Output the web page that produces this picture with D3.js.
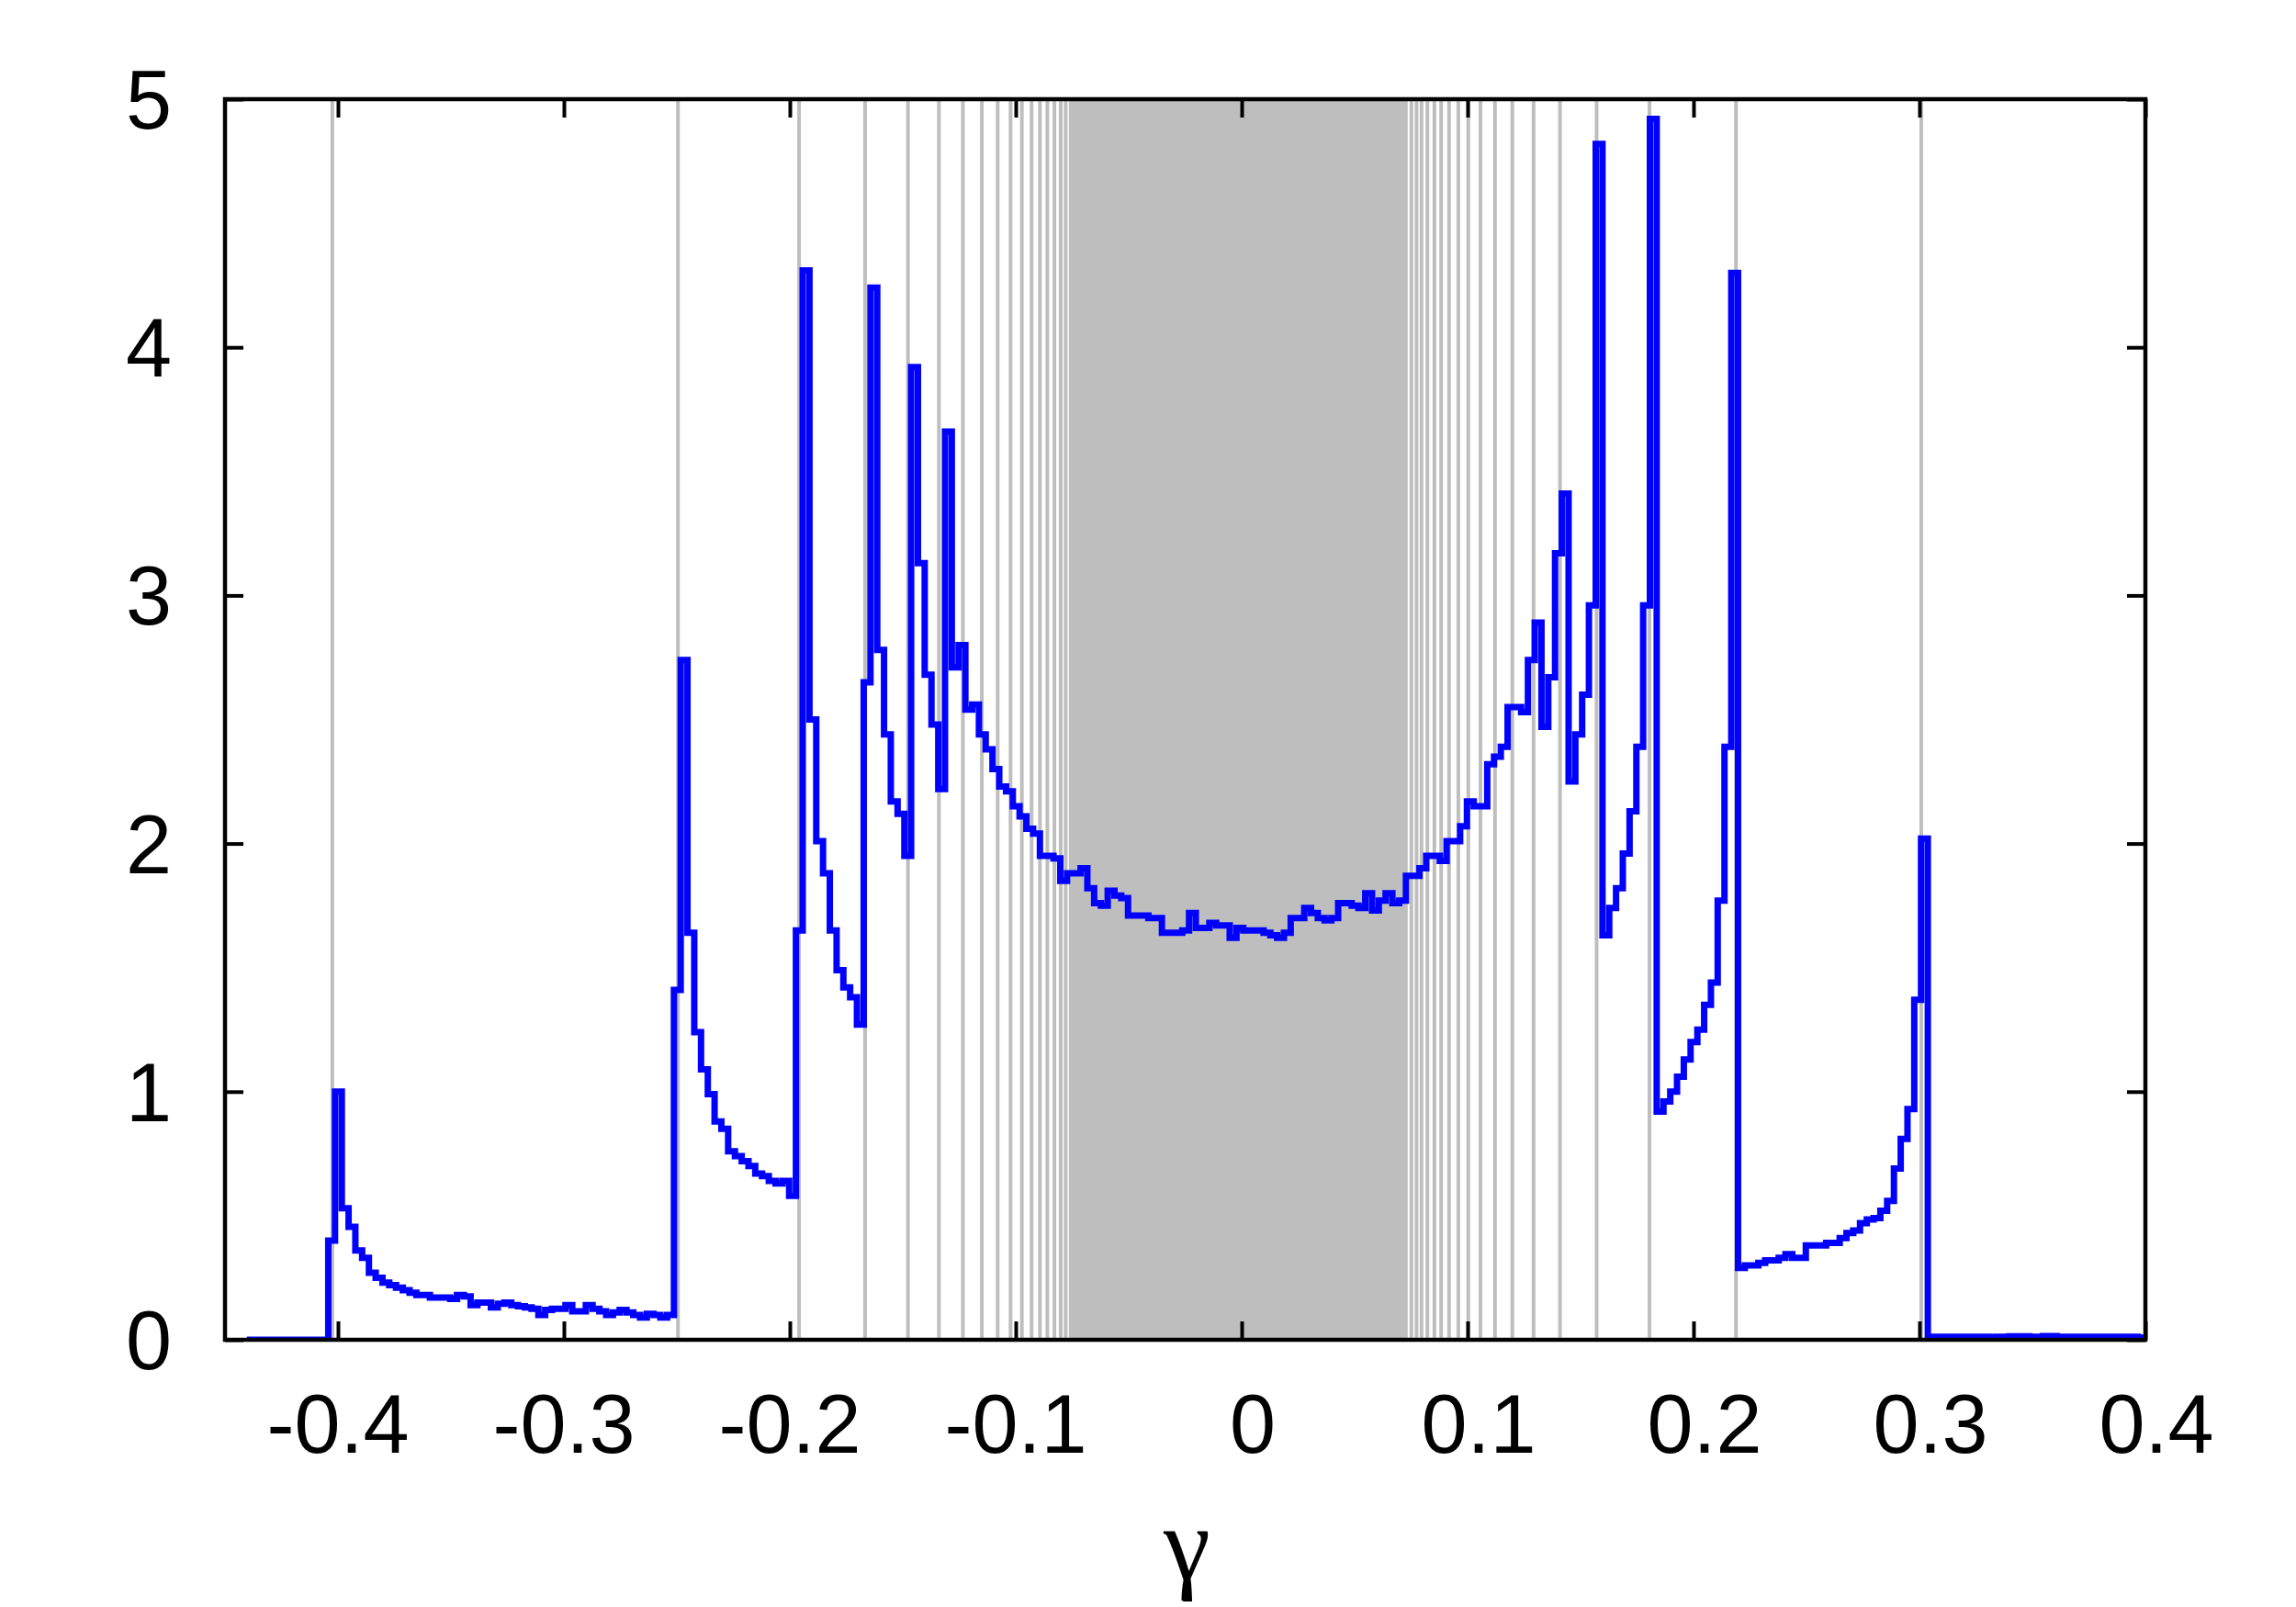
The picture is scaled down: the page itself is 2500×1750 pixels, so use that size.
<!DOCTYPE html>
<html><head><meta charset="utf-8">
<script src="https://cdn.jsdelivr.net/npm/d3@7"></script>
<style>html,body{margin:0;padding:0;background:#fff}</style>
</head><body>
<svg id="chart" width="2500" height="1750" xmlns="http://www.w3.org/2000/svg"></svg>
<script>
// ---- data ----
const binStart = -0.4403;   // left edge of first histogram bin (gamma)
const binWidth = 0.003;     // histogram bin width (gamma)
const density = [
  0,0,0,0,0,0,0,0,0,0,0,0,
  0.40, 1.00,
  0.53,0.455,0.36,0.33,0.27,0.25,0.23,0.22,0.21,0.20,0.19,0.18,0.18,0.17,0.17,0.17,0.165,0.18,0.175,0.14,
  0.15,0.15,0.13,0.145,0.15,0.14,0.135,0.13,0.125,0.10,0.12,0.125,0.125,0.14,0.115,0.115,0.14,0.125,0.115,0.10,
  0.11,0.12,0.11,0.10,0.09,0.105,0.10,0.09,0.10,
  1.41, 2.74,
  1.64,1.24,1.09,0.99,0.88,0.85,0.76,0.74,0.72,0.70,0.67,0.66,0.64,0.63,0.64,0.58,
  1.65, 4.31,
  2.50,2.01,1.88,1.65,1.49,1.42,1.38,1.27,2.65,
  4.24,
  2.78,2.44,2.17,2.12,1.95,
  3.92,
  3.13,2.68,2.48,2.22,
  3.66,
  2.71,2.80,2.54,2.56,2.44,2.38,2.30,2.23,2.21,
  2.15,2.11,2.06,2.04,1.95,1.95,1.94,1.85,1.88,1.88,1.90,1.82,1.76,1.75,1.81,1.79,1.78,1.71,1.71,1.71,
  1.70,1.70,1.64,1.64,1.64,1.65,1.72,1.66,1.66,1.68,1.67,1.67,1.62,1.66,1.65,1.65,1.65,1.64,1.63,1.62,
  1.64,1.70,1.70,1.74,1.72,1.70,1.69,1.70,1.76,1.76,1.75,1.74,1.80,1.73,
  1.77,1.80,1.76,1.77,1.87,1.87,1.90,1.95,1.95,1.93,2.01,2.01,2.07,2.17,2.15,2.15,2.32,2.35,2.39,2.55,
  2.55,2.53,2.74,2.89,2.47,2.67,3.17,
  3.41,
  2.25,2.44,2.60,2.96,
  4.82,
  1.63,1.74,1.82,1.96,2.13,2.39,2.96,
  4.92,
  0.92,0.96,1.00,1.06,1.13,1.20,1.25,1.35,1.44,1.77,2.39,
  4.30,
  0.29,0.30,0.30,0.31,0.32,0.32,0.33,0.345,0.33,0.33,0.38,0.38,0.38,0.39,0.39,0.41,0.43,0.44,0.47,0.485,
  0.49,0.52,0.56,0.69,0.81,0.93,1.37,
  2.02,
  0.012,0.012,0.012,0.012,0.012,0.012,0.012,0.012,0.012,0.010,0.012,0.012,0.014,0.014,0.014,0.012,
  0.012,0.015,0.015,0.012,0.012,0.012,0.012,0.012,0.012,0.012,0.012,0.012,0.012,0.012,0.012,0.008
];
const xTicks = [-0.4,-0.3,-0.2,-0.1,0,0.1,0.2,0.3,0.4];
const xTickLabels = ["-0.4","-0.3","-0.2","-0.1","0","0.1","0.2","0.3","0.4"];
const yTicks = [0,1,2,3,4,5];
const yTickLabels = ["0","1","2","3","4","5"];
const markerLinesLeft = [-0.4025,-0.2495,-0.1959,-0.1667,-0.1477,-0.1340,-0.1234,-0.1150,-0.1080,
  -0.1023,-0.0973,-0.0930,-0.0893,-0.0860,-0.0829,-0.0801,-0.0779];
const markerLinesRight = [0.0751,0.0774,0.0796,0.0822,0.0853,0.0883,0.0918,0.0959,0.1003,0.1057,
  0.1121,0.1198,0.1292,0.1409,0.1571,0.1805,0.2188,0.3008];
const denseBand = [-0.0765, 0.0735];
const xLabel = "γ";

// ---- drawing ----
const W = 2500, H = 1750;
const plot = {left: 245, right: 2336, top: 108, bottom: 1459};
const x = d3.scaleLinear().domain([-0.45, 0.4]).range([plot.left, plot.right]);
const y = d3.scaleLinear().domain([0, 5]).range([plot.bottom, plot.top]);

const svg = d3.select("#chart");
svg.append("rect").attr("width", W).attr("height", H).attr("fill", "#fff");

svg.append("defs").append("clipPath").attr("id", "clip")
  .append("rect").attr("x", plot.left).attr("y", plot.top)
  .attr("width", plot.right - plot.left).attr("height", plot.bottom - plot.top);

const gray = "#bebebe";
const gLines = svg.append("g").attr("clip-path", "url(#clip)");
gLines.append("rect")
  .attr("x", x(denseBand[0])).attr("y", plot.top)
  .attr("width", x(denseBand[1]) - x(denseBand[0]))
  .attr("height", plot.bottom - plot.top)
  .attr("fill", gray);
gLines.selectAll("line.marker")
  .data(markerLinesLeft.concat(markerLinesRight))
  .join("line").attr("class", "marker")
  .attr("x1", d => x(d)).attr("x2", d => x(d))
  .attr("y1", plot.top).attr("y2", plot.bottom)
  .attr("stroke", gray).attr("stroke-width", 4);

// histogram steps
const pts = density.map((v, i) => [binStart + i * binWidth, v]);
pts.push([binStart + density.length * binWidth, density[density.length - 1]]);
const line = d3.line().x(d => x(d[0])).y(d => y(d[1])).curve(d3.curveStepAfter);
svg.append("g").attr("clip-path", "url(#clip)")
  .append("path").datum(pts)
  .attr("d", line)
  .attr("fill", "none").attr("stroke", "#0000ff")
  .attr("stroke-width", 7).attr("stroke-linejoin", "miter").attr("stroke-linecap", "butt");

// axes (inward ticks, mirrored)
const tickLen = 20;
function styleAxis(g) {
  g.select(".domain").remove();
  g.selectAll(".tick line").attr("stroke", "#000").attr("stroke-width", 4);
  g.selectAll(".tick text").remove();
}
svg.append("g").attr("transform", `translate(0,${plot.bottom})`)
  .call(d3.axisBottom(x).tickValues(xTicks).tickSizeInner(-tickLen).tickSizeOuter(0)).call(styleAxis);
svg.append("g").attr("transform", `translate(0,${plot.top})`)
  .call(d3.axisTop(x).tickValues(xTicks).tickSizeInner(-tickLen).tickSizeOuter(0)).call(styleAxis);
svg.append("g").attr("transform", `translate(${plot.left},0)`)
  .call(d3.axisLeft(y).tickValues(yTicks).tickSizeInner(-tickLen).tickSizeOuter(0)).call(styleAxis);
svg.append("g").attr("transform", `translate(${plot.right},0)`)
  .call(d3.axisRight(y).tickValues(yTicks).tickSizeInner(-tickLen).tickSizeOuter(0)).call(styleAxis);

// frame
svg.append("rect")
  .attr("x", plot.left).attr("y", plot.top)
  .attr("width", plot.right - plot.left).attr("height", plot.bottom - plot.top)
  .attr("fill", "none").attr("stroke", "#000").attr("stroke-width", 4.5);

// tick labels
const font = "'Liberation Sans', Arial, Helvetica, sans-serif";
svg.append("g").selectAll("text")
  .data(xTicks)
  .join("text")
  .attr("x", (d) => x(d) + (d < 0 ? 0 : 12))
  .attr("y", plot.bottom + 123)
  .attr("text-anchor", "middle")
  .attr("font-family", font).attr("font-size", 90)
  .attr("fill", "#000")
  .text((d, i) => xTickLabels[i]);
svg.append("g").selectAll("text")
  .data(yTicks)
  .join("text")
  .attr("x", plot.left - 58)
  .attr("y", d => y(d) + 32)
  .attr("text-anchor", "end")
  .attr("font-family", font).attr("font-size", 90)
  .attr("fill", "#000")
  .text((d, i) => yTickLabels[i]);

// axis title
svg.append("text")
  .attr("x", (plot.left + plot.right) / 2 + 2)
  .attr("y", 1720)
  .attr("text-anchor", "middle")
  .attr("font-family", "'Liberation Serif', 'Times New Roman', serif")
  .attr("font-size", 115)
  .attr("fill", "#000")
  .text(xLabel);
</script>
</body></html>
